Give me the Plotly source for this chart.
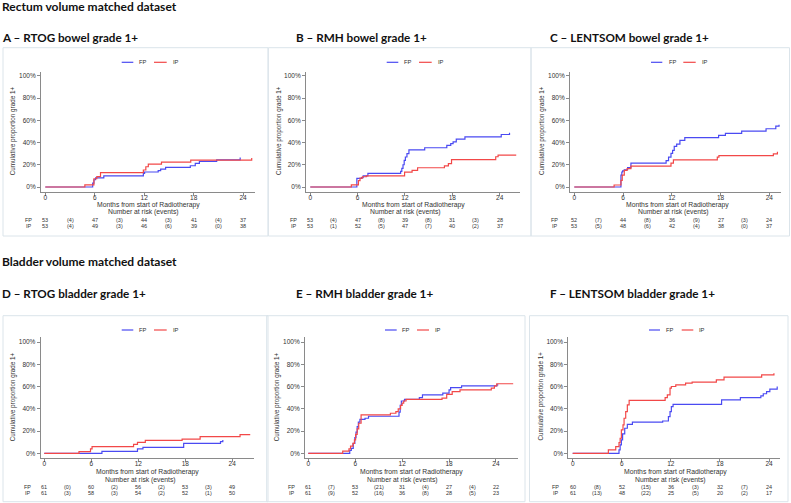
import plotly.graph_objects as go

W, H = 791, 503

# ---------------- data ----------------
MONTH_TICKS = [0, 6, 12, 18, 24]
PCT_TICKS = [0, 20, 40, 60, 80, 100]
PCT_LABELS = ["0%", "20%", "40%", "60%", "80%", "100%"]
RISK_TIMES = [0, 6, 12, 18, 24]
EVENT_TIMES = [3, 9, 15, 21]
GROUPS = ["FP", "IP"]

SECTION_TITLES = ["Rectum volume matched dataset", "Bladder volume matched dataset"]
PANEL_TITLES = ["A \u2013 RTOG bowel grade 1+", "B \u2013 RMH bowel grade 1+", "C \u2013 LENTSOM bowel grade 1+",
                "D \u2013 RTOG bladder grade 1+", "E \u2013 RMH bladder grade 1+", "F \u2013 LENTSOM bladder grade 1+"]
X_TITLE = "Months from start of Radiotherapy"
Y_TITLE = "Cumulative proportion grade 1+"
RISK_TITLE = "Number at risk (events)"

# Panel A
A_FP_t = [0, 5.75, 5.9, 6.1, 7.1, 11.9, 12.05, 13.7, 14.0, 14.6, 17.6, 18.2, 18.7, 20.8, 23.65]
A_FP_y = [0, 3.5, 6.5, 8.2, 10, 12.3, 13.5, 14.7, 16, 17.6, 19.1, 21.2, 23, 24.4, 26.5]
A_IP_t = [0, 4.8, 5.9, 6.25, 6.7, 11.9, 12.2, 12.5, 14.1, 17.65, 25.05]
A_IP_y = [0, 2, 7.4, 9.4, 12.9, 15.3, 18.2, 20.6, 22.4, 24.1, 26]
A_FP_n = [53, 47, 44, 41, 37]
A_FP_ev = [4, 3, 3, 4]
A_IP_n = [53, 49, 46, 39, 38]
A_IP_ev = [4, 3, 6, 0]

# Panel B
B_FP_t = [0, 5.9, 6.5, 6.7, 7.3, 11.45, 11.6, 11.75, 11.9, 12.05, 12.25, 12.5, 14.5, 17.3, 17.8, 18.1, 18.5, 19.6, 24.2, 25.25]
B_FP_y = [0, 7.7, 8.5, 10, 12.2, 14, 16.7, 20, 24, 27, 30, 33.3, 35.3, 37.5, 39, 40.6, 43, 45, 47.2, 48.8]
B_IP_t = [0, 5.2, 6.1, 6.3, 6.6, 7.1, 11.95, 12.9, 13.6, 17.0, 17.5, 17.9, 23.5, 23.8, 26.1]
B_IP_y = [0, 2, 5.7, 8, 9.2, 10, 13.4, 15, 17.3, 19, 21, 24.7, 27.2, 28.6, 28.6]
B_FP_n = [53, 47, 39, 31, 28]
B_FP_ev = [4, 8, 8, 3]
B_IP_n = [53, 52, 47, 40, 37]
B_IP_ev = [1, 5, 7, 2]

# Panel C
C_FP_t = [0, 5.74, 5.85, 5.95, 6.15, 6.56, 6.97, 11.3, 11.6, 11.9, 12.1, 12.3, 12.6, 13.0, 13.6, 17.76, 18.6, 20.6, 23.6, 24.8, 25.2]
C_FP_y = [0, 10.6, 13.5, 14.5, 15.5, 17.5, 21.5, 23.8, 26.8, 30.3, 33, 36.5, 38.5, 42, 44.4, 46.5, 48.2, 50.3, 52.4, 54.7, 56]
C_IP_t = [0, 4.9, 5.74, 5.9, 6.15, 6.5, 6.97, 11.9, 12.2, 17.6, 17.8, 24.5, 25.0]
C_IP_y = [0, 1.8, 6, 10.6, 15, 16.5, 18.8, 21.5, 24.4, 26.8, 28.2, 29.7, 31.8]
C_FP_n = [52, 44, 36, 27, 24]
C_FP_ev = [7, 8, 9, 3]
C_IP_n = [53, 48, 42, 38, 37]
C_IP_ev = [5, 6, 4, 0]

# Panel D
D_FP_t = [0, 7.36, 11.9, 12.6, 17.8, 22.5, 22.8]
D_FP_y = [0, 1.8, 3.9, 5.4, 9, 10.4, 12]
D_IP_t = [0, 4.43, 5.9, 6.1, 11.4, 11.9, 12.9, 17.6, 19.9, 25.0, 26.3]
D_IP_y = [0, 1.5, 3.9, 6, 8, 9.9, 11.6, 12.8, 14.9, 16.7, 16.7]
D_FP_n = [61, 60, 56, 53, 49]
D_FP_ev = [0, 2, 2, 3]
D_IP_n = [61, 58, 54, 52, 50]
D_IP_ev = [3, 3, 2, 1]

# Panel E
E_FP_t = [0, 5.3, 5.5, 5.75, 5.95, 6.1, 6.25, 6.4, 6.6, 7.25, 7.7, 11.6, 11.75, 11.9, 12.3, 14.2, 14.6, 17.2, 18.0, 18.2, 19.6, 24.1, 24.3]
E_FP_y = [0, 2.5, 4.5, 9, 14, 19, 24, 28, 30.5, 31.5, 33.3, 37, 43, 47, 48.5, 50, 52.5, 54, 57, 59, 60.5, 61.5, 61.5]
E_IP_t = [0, 4.4, 5.2, 5.4, 5.7, 5.9, 6.05, 6.25, 6.45, 6.75, 10.5, 11.2, 11.5, 11.8, 12.0, 12.2, 12.5, 17.1, 17.7, 18.4, 19.4, 23.4, 23.8, 24.1, 26.2]
E_IP_y = [0, 2, 4, 6.5, 9, 12, 17, 22, 27, 34.5, 36, 37.5, 40, 43, 45, 47, 48.5, 49.5, 53, 55.5, 57, 58.5, 60.5, 62.5, 62.5]
E_FP_n = [61, 53, 31, 27, 22]
E_FP_ev = [7, 21, 4, 4]
E_IP_n = [61, 52, 36, 28, 23]
E_IP_ev = [9, 16, 8, 5]

# Panel F
F_FP_t = [0, 5.66, 5.8, 5.95, 6.1, 6.36, 6.68, 7.3, 11.0, 11.7, 11.9, 12.06, 12.27, 18.2, 20.5, 23.0, 23.3, 23.7, 24.1, 25.0]
F_FP_y = [0, 3, 7.5, 12, 17.4, 22.5, 26, 28, 29, 33, 37.5, 42, 44, 48, 50, 51.6, 53.5, 55.5, 57.7, 60]
F_IP_t = [0, 4.36, 5.26, 5.66, 5.8, 5.95, 6.15, 6.28, 6.48, 6.68, 6.9, 11.3, 11.57, 11.9, 12.06, 12.6, 13.8, 14.6, 17.56, 18.5, 23.1, 24.6]
F_IP_y = [0, 3, 6, 9.6, 13.5, 21, 25.5, 31.5, 37.5, 43.5, 47.5, 50, 52.5, 58.5, 60, 61.5, 63, 64, 66, 68.5, 70.5, 72]
F_FP_n = [60, 52, 36, 32, 24]
F_FP_ev = [8, 15, 3, 7]
F_IP_n = [61, 48, 25, 20, 17]
F_IP_ev = [13, 22, 5, 2]

CURVES = [
    ((A_FP_t, A_FP_y), (A_IP_t, A_IP_y)),
    ((B_FP_t, B_FP_y), (B_IP_t, B_IP_y)),
    ((C_FP_t, C_FP_y), (C_IP_t, C_IP_y)),
    ((D_FP_t, D_FP_y), (D_IP_t, D_IP_y)),
    ((E_FP_t, E_FP_y), (E_IP_t, E_IP_y)),
    ((F_FP_t, F_FP_y), (F_IP_t, F_IP_y)),
]
RISK = [
    ((A_FP_n, A_FP_ev), (A_IP_n, A_IP_ev)),
    ((B_FP_n, B_FP_ev), (B_IP_n, B_IP_ev)),
    ((C_FP_n, C_FP_ev), (C_IP_n, C_IP_ev)),
    ((D_FP_n, D_FP_ev), (D_IP_n, D_IP_ev)),
    ((E_FP_n, E_FP_ev), (E_IP_n, E_IP_ev)),
    ((F_FP_n, F_FP_ev), (F_IP_n, F_IP_ev)),
]

# ---------------- layout geometry (pixels) ----------------
COLORS = ["#4a4af2", "#f24848"]
AXCOL = "#8a8a8a"
TXT = "#333333"
SMALL = "Liberation Sans, Arial, sans-serif"
BOLD = "Lato, Liberation Sans, sans-serif"

PANELS = [
    dict(px=(41, 255), x0=45.3, ppm=8.24, row=0, title_x=0, box=(3, 268), ylab=13.3, xt=148.8, nr=143.2, lab_r=34.3,
         leg=(121.7, 133.3, 137, 154, 166.7, 170.7)),
    dict(px=(306, 520), x0=310.3, ppm=7.89, row=0, title_x=294.3, box=(268.3, 531), ylab=279, xt=413.8, nr=405.5, lab_r=299.3,
         leg=(386.7, 398.3, 402, 419, 431.7, 435.7)),
    dict(px=(570, 781), x0=574.3, ppm=8.125, row=0, title_x=547.7, box=(531, 789.5), ylab=542, xt=677.2, nr=673.8, lab_r=560,
         leg=(651, 662.3, 666.7, 683.3, 695.7, 700)),
    dict(px=(40.7, 254), x0=44.3, ppm=7.83, row=1, title_x=0, box=(3, 268), ylab=12.7, xt=147.3, nr=140, lab_r=33.3,
         leg=(121.7, 133.3, 137.3, 154, 166.7, 170.7)),
    dict(px=(305, 518.3), x0=308.3, ppm=7.82, row=1, title_x=294.3, box=(266.7, 525), ylab=276.7, xt=411.7, nr=402, lab_r=297.3,
         leg=(385, 396.7, 400, 417, 429, 433.3)),
    dict(px=(568.3, 780), x0=572.7, ppm=8.18, row=1, title_x=547.7, box=(529.5, 788), ylab=540, xt=675.3, nr=670.8, lab_r=561,
         leg=(649, 660, 664.3, 681.7, 693.3, 697.3)),
]
ROWS = [
    dict(sec_y=7, title_y=36.7, box=(47.7, 236), ax=(72, 192), zero=187, ppp=1.112, ylab=131,
         leg_y=62.3, xt_y=205.3, nr_y=212.3, risk_y=(220, 226)),
    dict(sec_y=261, title_y=292.5, box=(315.7, 501.7), ax=(337, 458), zero=453.3, ppp=1.113, ylab=396.5,
         leg_y=330, xt_y=471.7, nr_y=479.7, risk_y=(487.3, 493)),
]


def fx(px):
    return px / W


def fy(py):
    return 1 - py / H


fig = go.Figure()
annotations = []
shapes = []

for r, row in enumerate(ROWS):
    annotations.append(dict(text=SECTION_TITLES[r], x=fx(0), y=fy(row["sec_y"]), xref="paper", yref="paper",
                            xanchor="left", yanchor="middle", showarrow=False,
                            font=dict(family=BOLD, size=12, color="#111111", weight="bold")))

for i, p in enumerate(PANELS):
    row = ROWS[p["row"]]
    n = "" if i == 0 else str(i + 1)
    xa, ya = "x" + n, "y" + n

    xr = [(p["px"][0] - p["x0"]) / p["ppm"], (p["px"][1] - p["x0"]) / p["ppm"]]
    yr = [(row["zero"] - row["ax"][1]) / row["ppp"], (row["zero"] - row["ax"][0]) / row["ppp"]]

    fig.layout["xaxis" + n] = dict(
        domain=[fx(p["px"][0]), fx(p["px"][1])], range=xr, anchor=ya,
        tickmode="array", tickvals=MONTH_TICKS, ticks="outside", ticklen=3, tickcolor=AXCOL, tickwidth=1,
        ticklabelstandoff=-4,
        showline=True, linecolor=AXCOL, linewidth=1, showgrid=False, zeroline=False,
        tickfont=dict(family=SMALL, size=6.5, color=TXT), fixedrange=True)
    fig.layout["yaxis" + n] = dict(
        domain=[fy(row["ax"][1]), fy(row["ax"][0])], range=yr, anchor=xa,
        tickmode="array", tickvals=PCT_TICKS, ticktext=PCT_LABELS,
        ticks="outside", ticklen=3, tickcolor=AXCOL, tickwidth=1,
        showline=True, linecolor=AXCOL, linewidth=1, showgrid=False, zeroline=False,
        tickfont=dict(family=SMALL, size=6.5, color=TXT), fixedrange=True)

    for g, (t, y) in enumerate(CURVES[i]):
        fig.add_trace(go.Scatter(x=t, y=y, mode="lines", line=dict(shape="hv", color=COLORS[g], width=1.2),
                                 xaxis=xa, yaxis=ya, showlegend=False, hoverinfo="skip", name=GROUPS[g]))

    shapes.append(dict(type="rect", xref="paper", yref="paper",
                       x0=fx(p["box"][0]), x1=fx(p["box"][1]), y0=fy(row["box"][1]), y1=fy(row["box"][0]),
                       line=dict(color="#dbe4ea", width=1), fillcolor="rgba(0,0,0,0)", layer="below"))

    annotations.append(dict(text=PANEL_TITLES[i], x=fx(p["title_x"]), y=fy(row["title_y"]), xref="paper", yref="paper",
                            xanchor="left", yanchor="middle", showarrow=False,
                            font=dict(family=BOLD, size=11.7, color="#111111", weight="bold")))

    l = p["leg"]
    for g in range(2):
        shapes.append(dict(type="line", xref="paper", yref="paper",
                           x0=fx(l[3 * g]), x1=fx(l[3 * g + 1]), y0=fy(row["leg_y"]), y1=fy(row["leg_y"]),
                           line=dict(color=COLORS[g], width=1.2)))
        annotations.append(dict(text=GROUPS[g], x=fx(l[3 * g + 2]), y=fy(row["leg_y"]), xref="paper", yref="paper",
                                xanchor="left", yanchor="middle", showarrow=False,
                                font=dict(family=SMALL, size=5.8, color=TXT)))

    annotations.append(dict(text=Y_TITLE, x=fx(p["ylab"]), y=fy(row["ylab"]), xref="paper", yref="paper",
                            xanchor="center", yanchor="middle", textangle=-90, showarrow=False,
                            font=dict(family=SMALL, size=6.3, color=TXT)))
    annotations.append(dict(text=X_TITLE, x=fx(p["xt"]), y=fy(row["xt_y"]), xref="paper", yref="paper",
                            xanchor="center", yanchor="middle", showarrow=False,
                            font=dict(family=SMALL, size=6.8, color=TXT)))
    annotations.append(dict(text=RISK_TITLE, x=fx(p["nr"]), y=fy(row["nr_y"]), xref="paper", yref="paper",
                            xanchor="center", yanchor="middle", showarrow=False,
                            font=dict(family=SMALL, size=6.8, color=TXT)))

    for g in range(2):
        ry = fy(row["risk_y"][g])
        annotations.append(dict(text=GROUPS[g], x=fx(p["lab_r"]), y=ry, xref="paper", yref="paper",
                                xanchor="right", yanchor="middle", showarrow=False,
                                font=dict(family=SMALL, size=5.5, color=TXT)))
        nrisk, nev = RISK[i][g]
        for t, v in zip(RISK_TIMES, nrisk):
            annotations.append(dict(text=str(v), x=t, y=ry, xref=xa, yref="paper",
                                    xanchor="center", yanchor="middle", showarrow=False,
                                    font=dict(family=SMALL, size=5.5, color=TXT)))
        for t, v in zip(EVENT_TIMES, nev):
            annotations.append(dict(text="(%d)" % v, x=t, y=ry, xref=xa, yref="paper",
                                    xanchor="center", yanchor="middle", showarrow=False,
                                    font=dict(family=SMALL, size=5.5, color=TXT)))

fig.update_layout(width=W, height=H, margin=dict(l=0, r=0, t=0, b=0),
                  paper_bgcolor="white", plot_bgcolor="white",
                  annotations=annotations, shapes=shapes, showlegend=False)

fig.write_html("out.html", config={"displayModeBar": False},
               post_script="document.body.style.margin='0';document.body.style.padding='0';")
